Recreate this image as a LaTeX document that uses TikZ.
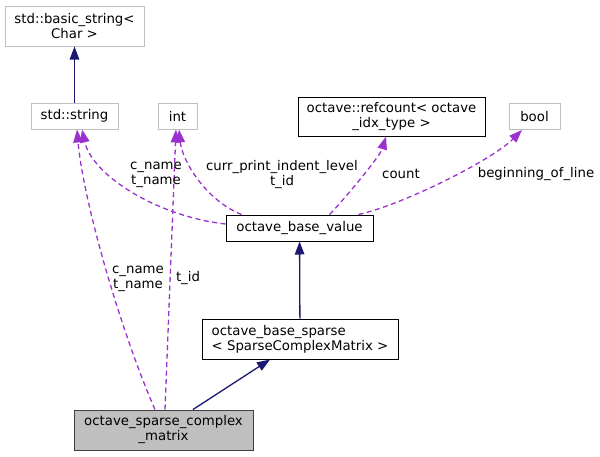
\documentclass[tikz,border=0pt]{standalone}
\usepackage{fontspec}
\setmainfont{DejaVu Sans}
\usetikzlibrary{arrows.meta,calc}
\definecolor{edgenavy}{HTML}{191970}
\definecolor{edgepurple}{HTML}{9A32CD}
\definecolor{extgray}{HTML}{BFBFBF}

\begin{document}
\begin{tikzpicture}[x=1pt,y=-1pt,
          every node/.style={font=\fontsize{13.3}{15}\selectfont,inner sep=0pt},
          cls/.style={draw=black,line width=1pt,fill=white,align=center},
          extcls/.style={cls,draw=extgray},
          thiscls/.style={cls,draw=black!75,fill=extgray},
          elabel/.style={align=center},
          inhedge/.style={edgenavy,line width=1.3pt,-{Triangle[length=13pt,width=9.5pt]}},
          useedge/.style={edgepurple,line width=1.3pt,dash pattern=on 5pt off 3.5pt,-{Triangle[length=13pt,width=9.5pt]}},
        ]
        \useasboundingbox (0,0) rectangle (600,456);
        \node[extcls,minimum width=139,minimum height=40] (bs) at (74.5,26) {std::basic\_string<\\Char >};
        \node[extcls,minimum width=87,minimum height=26] (str) at (74.5,116) {std::string};
        \node[extcls,minimum width=39,minimum height=26] (int) at (177.5,116) {int};
        \node[cls,minimum width=187,minimum height=39] (rc) at (391.5,116.5) {octave::refcount< octave\\\_idx\_type >};
        \node[extcls,minimum width=51,minimum height=26] (bool) at (534.5,116.5) {bool};
        \node[cls,minimum width=147,minimum height=26] (bv) at (299.5,228) {octave\_base\_value};
        \node[cls,align=left,minimum width=196,minimum height=40] (bsp) at (300,339) {octave\_base\_sparse\\< SparseComplexMatrix >};
        \node[thiscls,minimum width=179,minimum height=40] (sm) at (163.5,430) {octave\_sparse\_complex\\\_matrix};

        \draw[inhedge] (str) -- (bs);
        \draw[inhedge] (bsp) -- (bv);
        \draw[inhedge] ($(sm.north)+(29.5,0)$) -- ($(bsp.south)+(-30,0)$);

        \draw[useedge] ($(bv.west)+(0,-4)$) .. controls +(-70,-8) and +(10,45) .. ($(str.south)+(7.5,0)$);
        \draw[useedge] ($(sm.north)+(-8.5,0)$) .. controls +(-35,-80) and +(6,70) .. ($(str.south)+(2.5,0)$);
        \draw[useedge] ($(sm.north)+(1.5,0)$) -- ($(int.south)+(-1.5,0)$);
        \draw[useedge] ($(bv.north west)+(16,0)$) .. controls +(-37,-15) and +(3,30) .. ($(int.south)+(1.5,0)$);
        \draw[useedge] ($(bv.north west)+(104,0)$) .. controls +(12,-12) and +(-6,20) .. ($(rc.south)+(-5.5,0)$);
        \draw[useedge] ($(bv.north east)+(-15,0)$) .. controls +(45,-10) and +(-30,30) .. ($(bool.south)+(-12.5,0)$);

        \node[elabel] (lbvstr) at (156,175) {c\_name\\t\_name};
        \node[elabel] (lbvint) at (282,175) {curr\_print\_indent\_level\\t\_id};
        \node[elabel] (lbvrc) at (401,174) {count};
        \node[elabel] (lbvbool) at (536,174) {beginning\_of\_line};
        \node[elabel] (lsmstr) at (138,279) {c\_name\\t\_name};
        \node[elabel] (lsmint) at (188,278) {t\_id};
      \end{tikzpicture}
\end{document}
